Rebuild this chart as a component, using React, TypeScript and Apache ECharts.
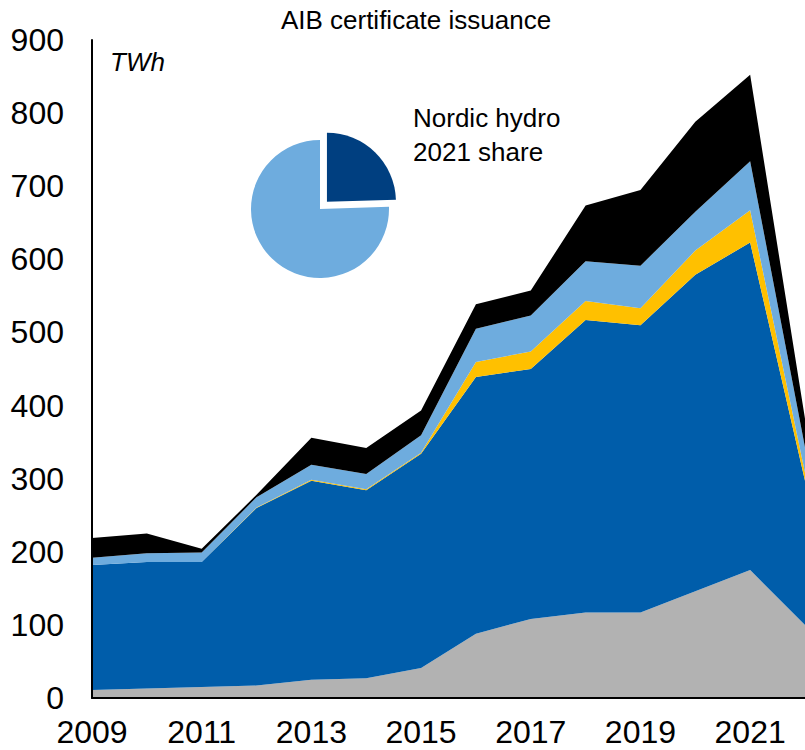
import React, { useEffect, useRef } from "react";
import * as echarts from "echarts";

// Years on the x axis
const years = [
  "2009", "2010", "2011", "2012", "2013", "2014", "2015",
  "2016", "2017", "2018", "2019", "2020", "2021", "2022",
];

// Stacked layers, bottom to top (TWh)
const greyLayer = [11, 13, 15, 17, 25, 27, 41, 88, 108, 117, 117, 146, 175, 100];
const blueLayer = [171, 173, 171, 243, 272, 257, 293, 351, 342, 400, 393, 433, 448, 197];
const yellowLayer = [0, 0, 0, 0.5, 1.5, 1.5, 1.5, 20.5, 24, 26, 23, 33, 44, 11];
const lightBlueLayer = [10, 12, 13, 14, 20.5, 21, 24, 45.6, 49.3, 54.3, 58.3, 53.2, 67, 35];
const blackLayer = [27, 27, 5, 3.5, 37, 35.5, 33.6, 33.4, 34, 76.3, 103.7, 123, 118.5, 39];

// Inset pie: Nordic hydro 2021 share (%)
const pieShare = [24.5, 75.5];

const FONT = "'Liberation Sans', Arial, sans-serif";

export default function App() {
  const ref = useRef<HTMLDivElement>(null);

  useEffect(() => {
    const chart = echarts.init(ref.current!, null, { renderer: "svg" });

    const area = (name: string, data: number[], color: string) => ({
      name,
      type: "line",
      stack: "total",
      data,
      symbol: "none",
      lineStyle: { width: 0, color },
      itemStyle: { color },
      areaStyle: { color, opacity: 1 },
      silent: true,
      z: 2,
    });

    chart.setOption({
      animation: false,
      grid: { left: 92, top: 40, width: 715, height: 658, containLabel: false },
      xAxis: {
        type: "category",
        boundaryGap: false,
        data: years,
        axisLine: { show: true, lineStyle: { color: "#000", width: 2 } },
        axisTick: { show: false },
        axisLabel: {
          interval: 1,
          fontSize: 32,
          color: "#000",
          fontFamily: FONT,
          margin: 18,
        },
        splitLine: { show: false },
        z: 5,
      },
      yAxis: {
        type: "value",
        min: 0,
        max: 900,
        interval: 100,
        axisLine: { show: true, lineStyle: { color: "#000", width: 2 } },
        axisTick: { show: false },
        axisLabel: {
          fontSize: 32,
          color: "#000",
          fontFamily: FONT,
          margin: 28,
        },
        splitLine: { show: false },
        z: 5,
      },
      series: [
        area("Grey", greyLayer, "#B2B2B2"),
        area("Blue", blueLayer, "#005DAA"),
        area("Yellow", yellowLayer, "#FFC000"),
        area("Light blue", lightBlueLayer, "#6EACDE"),
        area("Black", blackLayer, "#000000"),
        {
          name: "Nordic hydro 2021 share",
          type: "pie",
          center: [320, 209],
          radius: 69,
          startAngle: 90,
          clockwise: true,
          selectedMode: "single",
          selectedOffset: 10,
          silent: true,
          label: { show: false },
          labelLine: { show: false },
          emphasis: { disabled: true },
          data: [
            { value: pieShare[0], name: "Nordic hydro", selected: true, itemStyle: { color: "#003F80" } },
            { value: pieShare[1], name: "Other", itemStyle: { color: "#6EACDE" } },
          ],
          z: 10,
        },
      ],
      graphic: [
        {
          type: "text",
          x: 416,
          y: 20,
          style: {
            text: "AIB certificate issuance",
            font: `26px ${FONT}`,
            fill: "#000",
            textAlign: "center",
            textVerticalAlign: "middle",
          },
        },
        {
          type: "text",
          x: 110,
          y: 62,
          style: {
            text: "TWh",
            font: `italic 26px ${FONT}`,
            fill: "#000",
            textAlign: "left",
            textVerticalAlign: "middle",
          },
        },
        {
          type: "text",
          x: 413,
          y: 118,
          style: {
            text: "Nordic hydro",
            font: `26px ${FONT}`,
            fill: "#000",
            textAlign: "left",
            textVerticalAlign: "middle",
          },
        },
        {
          type: "text",
          x: 413,
          y: 152,
          style: {
            text: "2021 share",
            font: `26px ${FONT}`,
            fill: "#000",
            textAlign: "left",
            textVerticalAlign: "middle",
          },
        },
      ],
    });

    return () => chart.dispose();
  }, []);

  return (
    <div
      ref={ref}
      style={{ position: "absolute", left: 0, top: 0, width: 805, height: 750 }}
    />
  );
}
